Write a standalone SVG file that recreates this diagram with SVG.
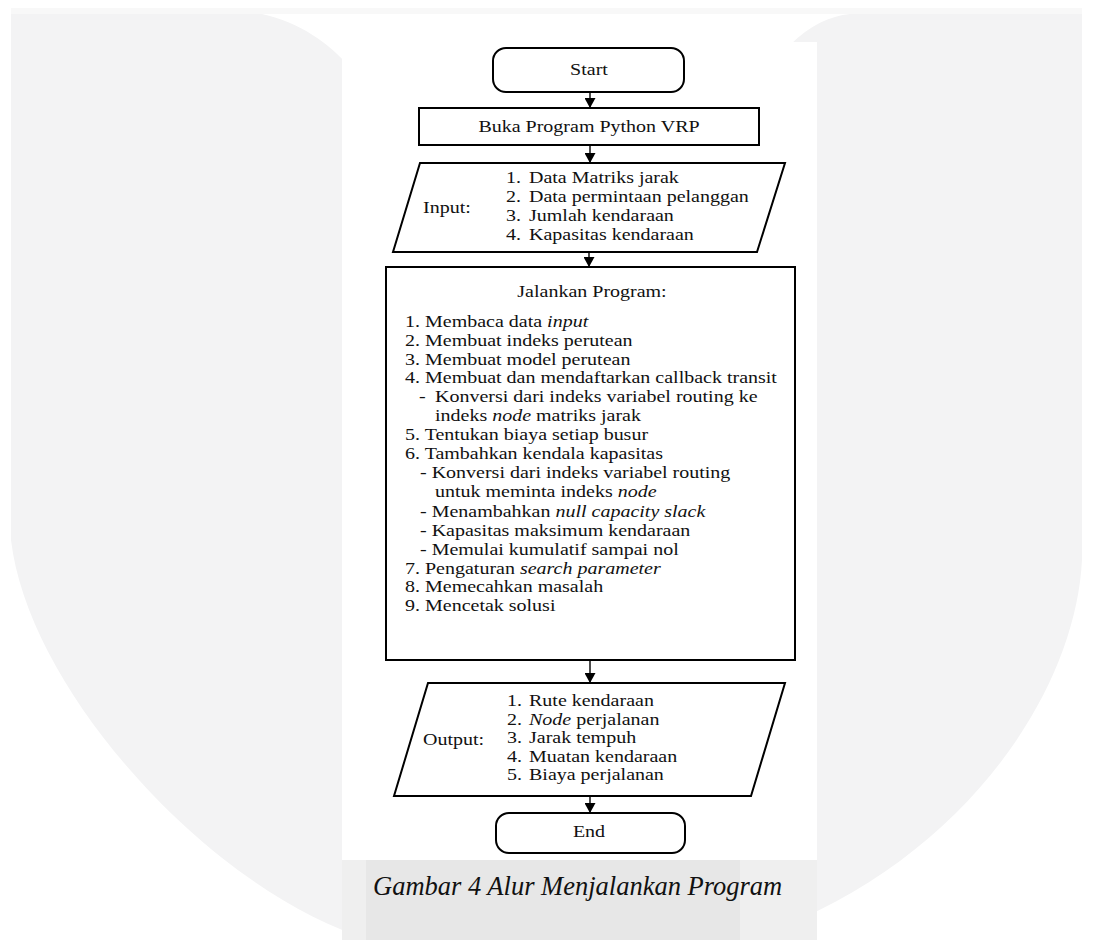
<svg xmlns="http://www.w3.org/2000/svg" width="1093" height="940" viewBox="0 0 1093 940">
<style>
.bg{fill:#f3f3f4}
.shape{fill:#ffffff;stroke:#000;stroke-width:2}
.t{font-family:"Liberation Serif","Times New Roman",serif;font-size:17.5px;fill:#111}
.i{font-style:italic}
.c{text-anchor:middle}
.cap{font-family:"Liberation Serif","Times New Roman",serif;font-size:26.5px;font-style:italic;fill:#111}
.conn{stroke:#000;stroke-width:1.4;fill:none;marker-end:url(#ah)}
</style>
<defs>
<marker id="ah" markerUnits="userSpaceOnUse" markerWidth="12" markerHeight="11" refX="10" refY="5.5" orient="auto" viewBox="0 0 10 11">
<path d="M0,0 L10,5.5 L0,11 Z" fill="#000"/>
</marker>
</defs>
<rect width="1093" height="940" fill="#ffffff"/>
<g id="watermark">
<path class="bg" d="M11,14 H262 C300,22 330,45 345,62 L790,45 C810,25 830,16 850,14 H1082 V560 C1075,700 950,880 730,945 L390,945 C230,910 30,700 11,540 Z"/>
<rect x="11" y="8" width="1071" height="6" fill="#f8f8f8"/>
<rect x="342" y="42" width="475" height="818" fill="#ffffff"/>
<rect x="342" y="860" width="475" height="80" fill="#efefef"/>
<rect x="366" y="860" width="374" height="80" fill="#e7e7e7"/>
</g>
<g id="connectors">
<line class="conn" x1="590" y1="92" x2="590" y2="108"/>
<line class="conn" x1="590" y1="145" x2="590" y2="163"/>
<line class="conn" x1="589" y1="252" x2="589" y2="267"/>
<line class="conn" x1="590" y1="660" x2="590" y2="683"/>
<line class="conn" x1="590" y1="796" x2="590" y2="813"/>
</g>
<g id="start">
<rect class="shape" x="493" y="48" width="191" height="44" rx="13" ry="13"/>
<text class="t c" transform="matrix(1.143,0,0,1,589,75)">Start</text>
</g>
<g id="buka">
<rect class="shape" x="419" y="108" width="340" height="37"/>
<text class="t c" transform="matrix(1.143,0,0,1,589,132)">Buka Program Python VRP</text>
</g>
<g id="input">
<polygon class="shape" points="420,163 785,163 757,252 393,252"/>
<text class="t" transform="matrix(1.143,0,0,1,423,213)">Input:</text>
<text class="t" transform="matrix(1.143,0,0,1,506,182.7)">1.</text>
<text class="t" transform="matrix(1.143,0,0,1,529,182.7)">Data Matriks jarak</text>
<text class="t" transform="matrix(1.143,0,0,1,506,201.7)">2.</text>
<text class="t" transform="matrix(1.143,0,0,1,529,201.7)">Data permintaan pelanggan</text>
<text class="t" transform="matrix(1.143,0,0,1,506,220.7)">3.</text>
<text class="t" transform="matrix(1.143,0,0,1,529,220.7)">Jumlah kendaraan</text>
<text class="t" transform="matrix(1.143,0,0,1,506,239.7)">4.</text>
<text class="t" transform="matrix(1.143,0,0,1,529,239.7)">Kapasitas kendaraan</text>
</g>
<g id="jalankan">
<rect class="shape" x="386" y="267" width="409" height="393"/>
<text class="t c" transform="matrix(1.143,0,0,1,592,297)">Jalankan Program:</text>
<text class="t" transform="matrix(1.143,0,0,1,405,326.5)">1. Membaca data <tspan class="i">input</tspan></text>
<text class="t" transform="matrix(1.143,0,0,1,405,345.5)">2. Membuat indeks perutean</text>
<text class="t" transform="matrix(1.143,0,0,1,405,364.5)">3. Membuat model perutean</text>
<text class="t" transform="matrix(1.143,0,0,1,405,383.3)">4. Membuat dan mendaftarkan callback transit</text>
<text class="t" transform="matrix(1.143,0,0,1,419,402)">-</text>
<text class="t" transform="matrix(1.143,0,0,1,435,402)">Konversi dari indeks variabel routing ke</text>
<text class="t" transform="matrix(1.143,0,0,1,435,421)">indeks <tspan class="i">node</tspan> matriks jarak</text>
<text class="t" transform="matrix(1.143,0,0,1,405,440)">5. Tentukan biaya setiap busur</text>
<text class="t" transform="matrix(1.143,0,0,1,405,459)">6. Tambahkan kendala kapasitas</text>
<text class="t" transform="matrix(1.143,0,0,1,420,478.3)">- Konversi dari indeks variabel routing</text>
<text class="t" transform="matrix(1.143,0,0,1,435,497.3)">untuk meminta indeks <tspan class="i">node</tspan></text>
<text class="t" transform="matrix(1.143,0,0,1,420,516.5)">- Menambahkan <tspan class="i">null capacity slack</tspan></text>
<text class="t" transform="matrix(1.143,0,0,1,420,535.6)">- Kapasitas maksimum kendaraan</text>
<text class="t" transform="matrix(1.143,0,0,1,420,554.8)">- Memulai kumulatif sampai nol</text>
<text class="t" transform="matrix(1.143,0,0,1,405,573.5)">7. Pengaturan <tspan class="i">search parameter</tspan></text>
<text class="t" transform="matrix(1.143,0,0,1,405,592.3)">8. Memecahkan masalah</text>
<text class="t" transform="matrix(1.143,0,0,1,405,611)">9. Mencetak solusi</text>
</g>
<g id="output">
<polygon class="shape" points="428,683 785,683 751,796 394,796"/>
<text class="t" transform="matrix(1.143,0,0,1,423,745)">Output:</text>
<text class="t" transform="matrix(1.143,0,0,1,507,706)">1.</text>
<text class="t" transform="matrix(1.143,0,0,1,529,706)">Rute kendaraan</text>
<text class="t" transform="matrix(1.143,0,0,1,507,724.5)">2.</text>
<text class="t" transform="matrix(1.143,0,0,1,529,724.5)"><tspan class="i">Node</tspan> perjalanan</text>
<text class="t" transform="matrix(1.143,0,0,1,507,743)">3.</text>
<text class="t" transform="matrix(1.143,0,0,1,529,743)">Jarak tempuh</text>
<text class="t" transform="matrix(1.143,0,0,1,507,761.5)">4.</text>
<text class="t" transform="matrix(1.143,0,0,1,529,761.5)">Muatan kendaraan</text>
<text class="t" transform="matrix(1.143,0,0,1,507,780)">5.</text>
<text class="t" transform="matrix(1.143,0,0,1,529,780)">Biaya perjalanan</text>
</g>
<g id="end">
<rect class="shape" x="496" y="813" width="189" height="40" rx="13" ry="13"/>
<text class="t c" transform="matrix(1.143,0,0,1,589,837)">End</text>
</g>
<g id="caption">
<text class="cap" x="373" y="895">Gambar 4 Alur Menjalankan Program</text>
</g>
</svg>
